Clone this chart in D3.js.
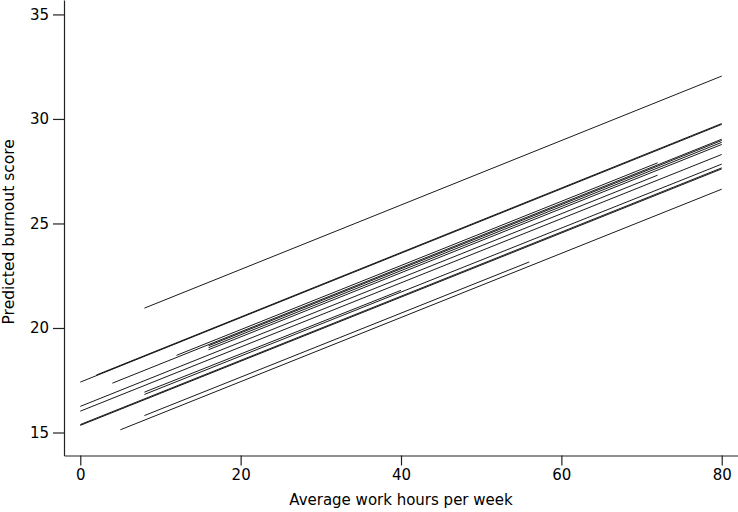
<!DOCTYPE html>
<html>
<head>
<meta charset="utf-8">
<script src="https://cdn.jsdelivr.net/npm/d3@7"></script>
<style>
  html, body { margin: 0; padding: 0; background: #fff; }
  svg { display: block; }
  text { font-family: "DejaVu Sans", sans-serif; fill: #000; }
</style>
</head>
<body>
<svg id="chart" width="738" height="512"></svg>
<script>
// Fitted lines: start hour, end hour, predicted score at start, predicted score at end
const startHours  = [8,     0,     2,     4,     16,    16,    16,    12,    0,     8,     0,     8,     0,     0,     5,     8];
const endHours    = [80,    80,    80,    80,    80,    80,    80,    72,    72,    40,    80,    80,    80,    80,    80,    56];
const startScores = [20.95, 17.41, 17.75, 17.36, 19.15, 19.06, 18.96, 18.69, 16.25, 16.93, 16.02, 16.82, 15.34, 15.38, 15.13, 15.81];
const endScores   = [32.05, 29.74, 29.78, 29.03, 28.97, 28.88, 28.78, 27.90, 27.31, 21.80, 28.30, 27.84, 27.61, 27.66, 26.64, 23.16];

const xTicks = [0, 20, 40, 60, 80];
const yTicks = [15, 20, 25, 30, 35];
const xTitle = "Average work hours per week";
const yTitle = "Predicted burnout score";

const lines = startHours.map((h, i) => ({
  x0: h, x1: endHours[i], y0: startScores[i], y1: endScores[i]
}));

const svg = d3.select("#chart");

const x = d3.scaleLinear().domain([-2.03, 82.03]).range([64, 738]);
const y = d3.scaleLinear().domain([13.9, 35.69]).range([455.5, 0]);

// lines
svg.append("g")
  .selectAll("line")
  .data(lines)
  .join("line")
  .attr("x1", d => x(d.x0))
  .attr("y1", d => y(d.y0))
  .attr("x2", d => x(d.x1))
  .attr("y2", d => y(d.y1))
  .attr("stroke", "#000")
  .attr("stroke-width", 0.9);

// axes
const xAxis = svg.append("g")
  .attr("transform", "translate(0,455.5)")
  .call(d3.axisBottom(x).tickValues(xTicks).tickSize(10).tickSizeOuter(0).tickPadding(4));
const yAxis = svg.append("g")
  .attr("transform", "translate(64,0)")
  .call(d3.axisLeft(y).tickValues(yTicks).tickSize(11).tickSizeOuter(0).tickPadding(4));

[xAxis, yAxis].forEach(g => {
  g.select(".domain").attr("stroke", "#222").attr("stroke-width", 1.2);
  g.selectAll(".tick line").attr("stroke", "#222").attr("stroke-width", 1.2);
  g.selectAll(".tick text").style("font-family", "DejaVu Sans, sans-serif").style("font-size", "15px").attr("fill", "#000");
});

svg.append("text")
  .attr("x", x(40))
  .attr("y", 505)
  .attr("text-anchor", "middle")
  .style("font-size", "15px")
  .text(xTitle);

svg.append("text")
  .attr("transform", "translate(14," + y(24.6) + ") rotate(-90)")
  .attr("text-anchor", "middle")
  .style("font-size", "15.5px")
  .text(yTitle);
</script>
</body>
</html>
